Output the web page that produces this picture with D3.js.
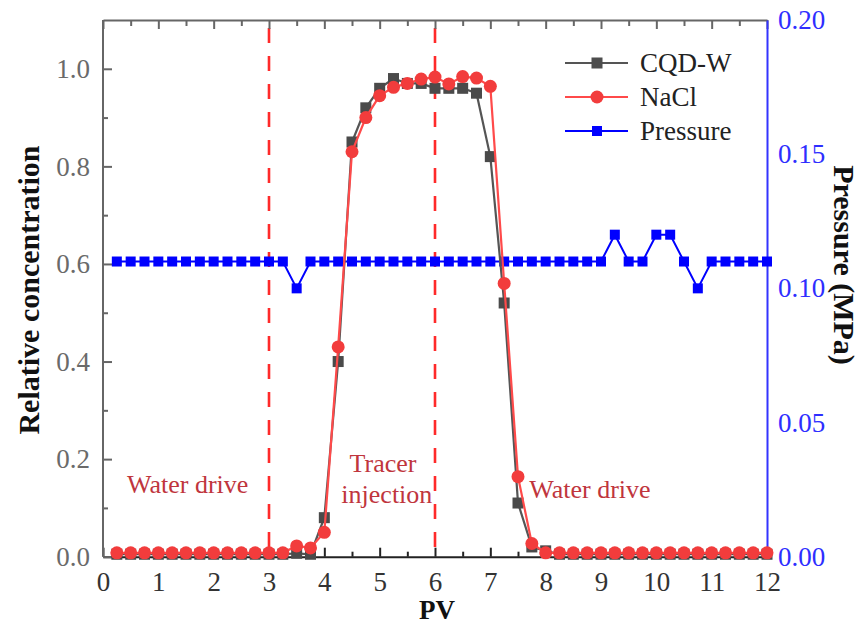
<!DOCTYPE html>
<html><head><meta charset="utf-8">
<script src="https://cdn.jsdelivr.net/npm/d3@7"></script>
<style>body{margin:0;background:#fff}svg{display:block}svg text{font-family:"Liberation Serif","Times New Roman",serif !important}</style>
</head><body><svg id="c" width="864" height="626"></svg>
<script>
const pv = [0.25,0.5,0.75,1,1.25,1.5,1.75,2,2.25,2.5,2.75,3,3.25,3.5,3.75,4,4.25,4.5,4.75,5,5.25,5.5,5.75,6,6.25,6.5,6.75,7,7.25,7.5,7.75,8,8.25,8.5,8.75,9,9.25,9.5,9.75,10,10.25,10.5,10.75,11,11.25,11.5,11.75,12];
const cqdW = [0.005,0.005,0.005,0.005,0.005,0.005,0.005,0.005,0.005,0.005,0.005,0.005,0.005,0.007,0.005,0.08,0.40,0.85,0.92,0.96,0.98,0.97,0.97,0.96,0.96,0.96,0.95,0.82,0.52,0.11,0.02,0.012,0.005,0.005,0.005,0.005,0.005,0.005,0.005,0.005,0.005,0.005,0.005,0.005,0.005,0.005,0.005,0.005];
const nacl = [0.008,0.008,0.008,0.008,0.008,0.008,0.008,0.008,0.008,0.008,0.008,0.008,0.008,0.022,0.018,0.05,0.43,0.83,0.90,0.945,0.962,0.97,0.979,0.983,0.969,0.984,0.981,0.964,0.56,0.164,0.027,0.008,0.008,0.008,0.008,0.008,0.008,0.008,0.008,0.008,0.008,0.008,0.008,0.008,0.008,0.008,0.008,0.008];
const pressure = [0.11,0.11,0.11,0.11,0.11,0.11,0.11,0.11,0.11,0.11,0.11,0.11,0.11,0.10,0.11,0.11,0.11,0.11,0.11,0.11,0.11,0.11,0.11,0.11,0.11,0.11,0.11,0.11,0.11,0.11,0.11,0.11,0.11,0.11,0.11,0.11,0.12,0.11,0.11,0.12,0.12,0.11,0.10,0.11,0.11,0.11,0.11,0.11];
const xTicks = [0,1,2,3,4,5,6,7,8,9,10,11,12];
const yTicks = [0.0,0.2,0.4,0.6,0.8,1.0];
const y2Ticks = [0.00,0.05,0.10,0.15,0.20];
const stageLines = [3,6];
const labels = [{t:"Water drive",x:1.53,y:0.13},{t:"Tracer",x:5.06,y:0.174},{t:"injection",x:5.13,y:0.11},{t:"Water drive",x:8.8,y:0.12}];
const legendItems = [{name:"CQD-W",type:"sq",c:"#4d4d4d",lc:"#555"},{name:"NaCl",type:"ci",c:"#f23c3c",lc:"#ff4a4a"},{name:"Pressure",type:"sqs",c:"#0000ff",lc:"#0000ff"}];

const L=103,R=767,T=20,B=556.7;
const FF='"Liberation Serif","Times New Roman",serif';
const svg=d3.select("#c").attr("font-family",FF);
const x=d3.scaleLinear().domain([0,12]).range([L,R]);
const y=d3.scaleLinear().domain([0,1.1]).range([B,T]);
const y2=d3.scaleLinear().domain([0,0.2]).range([B,T]);
const fs=27;

// dashed stage lines
svg.selectAll(".stage").data(stageLines).join("line")
 .attr("x1",d=>x(d)).attr("x2",d=>x(d)).attr("y1",T+8).attr("y2",B)
 .attr("stroke","#ff2a2a").attr("stroke-width",2.6).attr("stroke-dasharray","15,13");

// axes
const gx=svg.append("g").attr("transform",`translate(0,${B})`)
 .call(d3.axisBottom(x).tickValues(xTicks).tickFormat(d3.format("d")).tickSizeInner(-9).tickSizeOuter(0).tickPadding(15))
 .attr("font-family",FF);
gx.select(".domain").attr("stroke","#222").attr("stroke-width",2);
gx.selectAll(".tick line").attr("stroke","#222").attr("stroke-width",2);
gx.selectAll("text").attr("font-size",fs).attr("fill","#333");
svg.append("g").attr("transform",`translate(0,${B})`)
 .call(d3.axisBottom(x).tickValues(d3.range(0.5,12,1)).tickFormat("").tickSizeInner(-5).tickSizeOuter(0))
 .call(g=>{g.select(".domain").remove();g.selectAll("line").attr("stroke","#222").attr("stroke-width",2);});

const gt=svg.append("g").attr("transform",`translate(0,${T})`)
 .call(d3.axisTop(x).tickValues(xTicks).tickFormat("").tickSizeInner(-9).tickSizeOuter(0));
gt.select(".domain").attr("stroke","#666").attr("stroke-width",2);
gt.selectAll("line").attr("stroke","#666").attr("stroke-width",2);
svg.append("g").attr("transform",`translate(0,${T})`)
 .call(d3.axisTop(x).tickValues(d3.range(0.5,12,1)).tickFormat("").tickSizeInner(-6).tickSizeOuter(0))
 .call(g=>{g.select(".domain").remove();g.selectAll("line").attr("stroke","#666").attr("stroke-width",2);});

const gl=svg.append("g").attr("transform",`translate(${L},0)`)
 .call(d3.axisLeft(y).tickValues(yTicks).tickFormat(d3.format(".1f")).tickSizeInner(-9).tickSizeOuter(0).tickPadding(13))
 .attr("font-family",FF);
gl.select(".domain").attr("stroke","#666").attr("stroke-width",2).attr("d",`M0,${B}V${T}`);
gl.selectAll(".tick line").attr("stroke","#666").attr("stroke-width",2);
gl.selectAll("text").attr("font-size",fs).attr("fill","#6a6a6a");
svg.append("g").attr("transform",`translate(${L},0)`)
 .call(d3.axisLeft(y).tickValues([0.1,0.3,0.5,0.7,0.9]).tickFormat("").tickSizeInner(-5).tickSizeOuter(0))
 .call(g=>{g.select(".domain").remove();g.selectAll("line").attr("stroke","#666").attr("stroke-width",2);});

const gr=svg.append("g").attr("transform",`translate(${R},0)`)
 .call(d3.axisRight(y2).tickValues(y2Ticks).tickFormat(d3.format(".2f")).tickSize(0).tickPadding(11))
 .attr("font-family",FF);
gr.select(".domain").attr("stroke","#3333ff").attr("stroke-width",2);
gr.selectAll("text").attr("font-size",fs).attr("fill","#2e2eff");

// axis titles
svg.append("text").attr("transform",`translate(39,290) rotate(-90)`).attr("text-anchor","middle")
 .attr("font-size",30).attr("font-weight","bold").attr("fill","#111").text("Relative concentration");
svg.append("text").attr("transform",`translate(834,265) rotate(90)`).attr("text-anchor","middle")
 .attr("font-size",30).attr("font-weight","bold").attr("fill","#111").text("Pressure (MPa)");
svg.append("text").attr("x",437).attr("y",619).attr("text-anchor","middle")
 .attr("font-size",27).attr("font-weight","bold").attr("fill","#111").text("PV");

// stage labels
svg.selectAll(".lab").data(labels).join("text")
 .attr("x",d=>x(d.x)).attr("y",d=>y(d.y)).attr("text-anchor","middle")
 .attr("font-size",26).attr("fill","#c0353d").text(d=>d.t);

// pressure
const pData=pv.map((d,i)=>[d,pressure[i]]);
svg.append("path").datum(pData).attr("fill","none").attr("stroke","#0000ff").attr("stroke-width",2)
 .attr("d",d3.line().x(d=>x(d[0])).y(d=>y2(d[1])));
svg.selectAll(".pm").data(pData).join("rect")
 .attr("x",d=>x(d[0])-5).attr("y",d=>y2(d[1])-5).attr("width",10).attr("height",10).attr("fill","#0000ff");

// CQD-W
const cData=pv.map((d,i)=>[d,cqdW[i]]);
svg.append("path").datum(cData).attr("fill","none").attr("stroke","#555").attr("stroke-width",2.2)
 .attr("d",d3.line().x(d=>x(d[0])).y(d=>y(d[1])));
svg.selectAll(".cm").data(cData).join("rect")
 .attr("x",d=>x(d[0])-5.5).attr("y",d=>y(d[1])-5.5).attr("width",11).attr("height",11).attr("fill","#4a4a4a");

// NaCl
const nData=pv.map((d,i)=>[d,nacl[i]]);
svg.append("path").datum(nData).attr("fill","none").attr("stroke","#ff4a4a").attr("stroke-width",2.2)
 .attr("d",d3.line().x(d=>x(d[0])).y(d=>y(d[1])));
svg.selectAll(".nm").data(nData).join("circle")
 .attr("cx",d=>x(d[0])).attr("cy",d=>y(d[1])).attr("r",6.5).attr("fill","#f23c3c");

// legend
const lg=svg.append("g");
legendItems.forEach((it,i)=>{
  const yy=63+i*34;
  lg.append("line").attr("x1",565).attr("x2",628).attr("y1",yy).attr("y2",yy).attr("stroke",it.lc).attr("stroke-width",2.2);
  if(it.type==="ci") lg.append("circle").attr("cx",597).attr("cy",yy).attr("r",6.5).attr("fill",it.c);
  else { const s=it.type==="sq"?11:10; lg.append("rect").attr("x",597-s/2).attr("y",yy-s/2).attr("width",s).attr("height",s).attr("fill",it.c); }
  lg.append("text").attr("x",640).attr("y",yy+9).attr("font-size",27).attr("fill","#222").text(it.name);
});
</script></body></html>
